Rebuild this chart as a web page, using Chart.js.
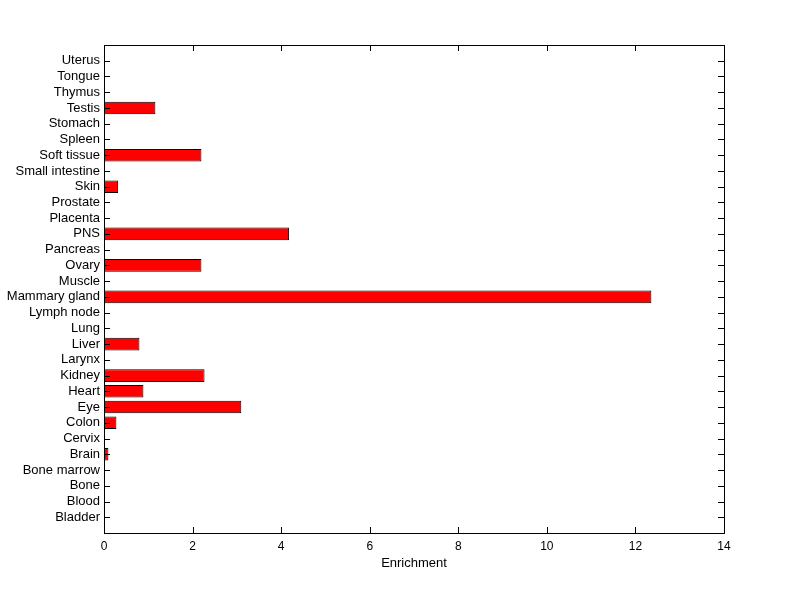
<!DOCTYPE html>
<html>
<head>
<meta charset="utf-8">
<script src="https://cdn.jsdelivr.net/npm/chart.js@4"></script>
<style>
  body { margin: 0; background: #fff; }
</style>
</head>
<body>
<canvas id="myChart" width="800" height="599"></canvas>
<script>
// tissues, bottom to top (alphabetical, as plotted)
const tissues = ['Bladder', 'Blood', 'Bone', 'Bone marrow', 'Brain', 'Cervix', 'Colon', 'Eye',
  'Heart', 'Kidney', 'Larynx', 'Liver', 'Lung', 'Lymph node', 'Mammary gland', 'Muscle',
  'Ovary', 'Pancreas', 'PNS', 'Placenta', 'Prostate', 'Skin', 'Small intestine',
  'Soft tissue', 'Spleen', 'Stomach', 'Testis', 'Thymus', 'Tongue', 'Uterus'];
const enrichment = [0, 0, 0, 0, 0.10, 0, 0.28, 3.10,
  0.89, 2.27, 0, 0.80, 0, 0, 12.36, 0,
  2.20, 0, 4.18, 0, 0, 0.32, 0,
  2.20, 0, 0, 1.16, 0, 0, 0];
const xTicks = [0, 2, 4, 6, 8, 10, 12, 14];

const labelFont = { family: "'Liberation Sans', Arial, sans-serif", size: 13 };
const tickFont = { family: "'Liberation Sans', Arial, sans-serif", size: 12 };

// matlab style box with inward ticks
const boxPlugin = {
  id: 'box',
  afterDraw(chart) {
    const c = chart.ctx, a = chart.chartArea;
    const t = 6;
    c.save();
    c.strokeStyle = '#000';
    c.lineWidth = 1;
    c.strokeRect(Math.round(a.left) + 0.5, Math.round(a.top) + 0.5,
      Math.round(a.right - a.left), Math.round(a.bottom - a.top));
    c.beginPath();
    chart.scales.x.ticks.forEach((tk, i) => {
      const px = Math.round(chart.scales.x.getPixelForTick(i)) + 0.5;
      c.moveTo(px, a.top); c.lineTo(px, a.top + t);
      c.moveTo(px, a.bottom); c.lineTo(px, a.bottom - t);
    });
    chart.scales.y.ticks.forEach((tk, i) => {
      const py = Math.round(chart.scales.y.getPixelForTick(i)) + 0.5;
      c.moveTo(a.left, py); c.lineTo(a.left + t, py);
      c.moveTo(a.right, py); c.lineTo(a.right - t, py);
    });
    c.stroke();
    c.restore();
  }
};

new Chart(document.getElementById('myChart'), {
  type: 'bar',
  data: {
    datasets: [{
      data: tissues.map((name, i) => ({ x: enrichment[i], y: i + 1 })),
      backgroundColor: '#ff0000',
      borderColor: '#000',
      borderWidth: 1,
      borderSkipped: false,
      barPercentage: 0.8,
      categoryPercentage: 1
    }]
  },
  options: {
    indexAxis: 'y',
    responsive: false,
    animation: false,
    layout: { padding: { top: 45, right: 76, left: 0, bottom: 0 } },
    plugins: { legend: { display: false }, tooltip: { enabled: false } },
    scales: {
      x: {
        type: 'linear',
        min: 0,
        max: 14,
        afterBuildTicks: s => { s.ticks = xTicks.map(v => ({ value: v })); },
        afterFit: s => { s.height = 66; },
        grid: { display: false, drawTicks: false },
        border: { display: false },
        ticks: { color: '#000', font: tickFont, padding: 6, maxRotation: 0 },
        title: { display: true, text: 'Enrichment', color: '#000', font: labelFont, padding: { top: 0, bottom: 28 } }
      },
      y: {
        type: 'linear',
        offset: false,
        min: 0,
        max: tissues.length + 1,
        afterBuildTicks: s => {
          s.ticks = tissues.map((name, i) => ({ value: i + 1 }));
        },
        afterFit: s => { s.width = 104; },
        grid: { display: false, drawTicks: false, offset: false },
        border: { display: false },
        ticks: {
          color: '#000',
          font: labelFont,
          padding: 4,
          autoSkip: false,
          callback: v => tissues[v - 1] || ''
        }
      }
    }
  },
  plugins: [boxPlugin]
});
</script>
</body>
</html>
